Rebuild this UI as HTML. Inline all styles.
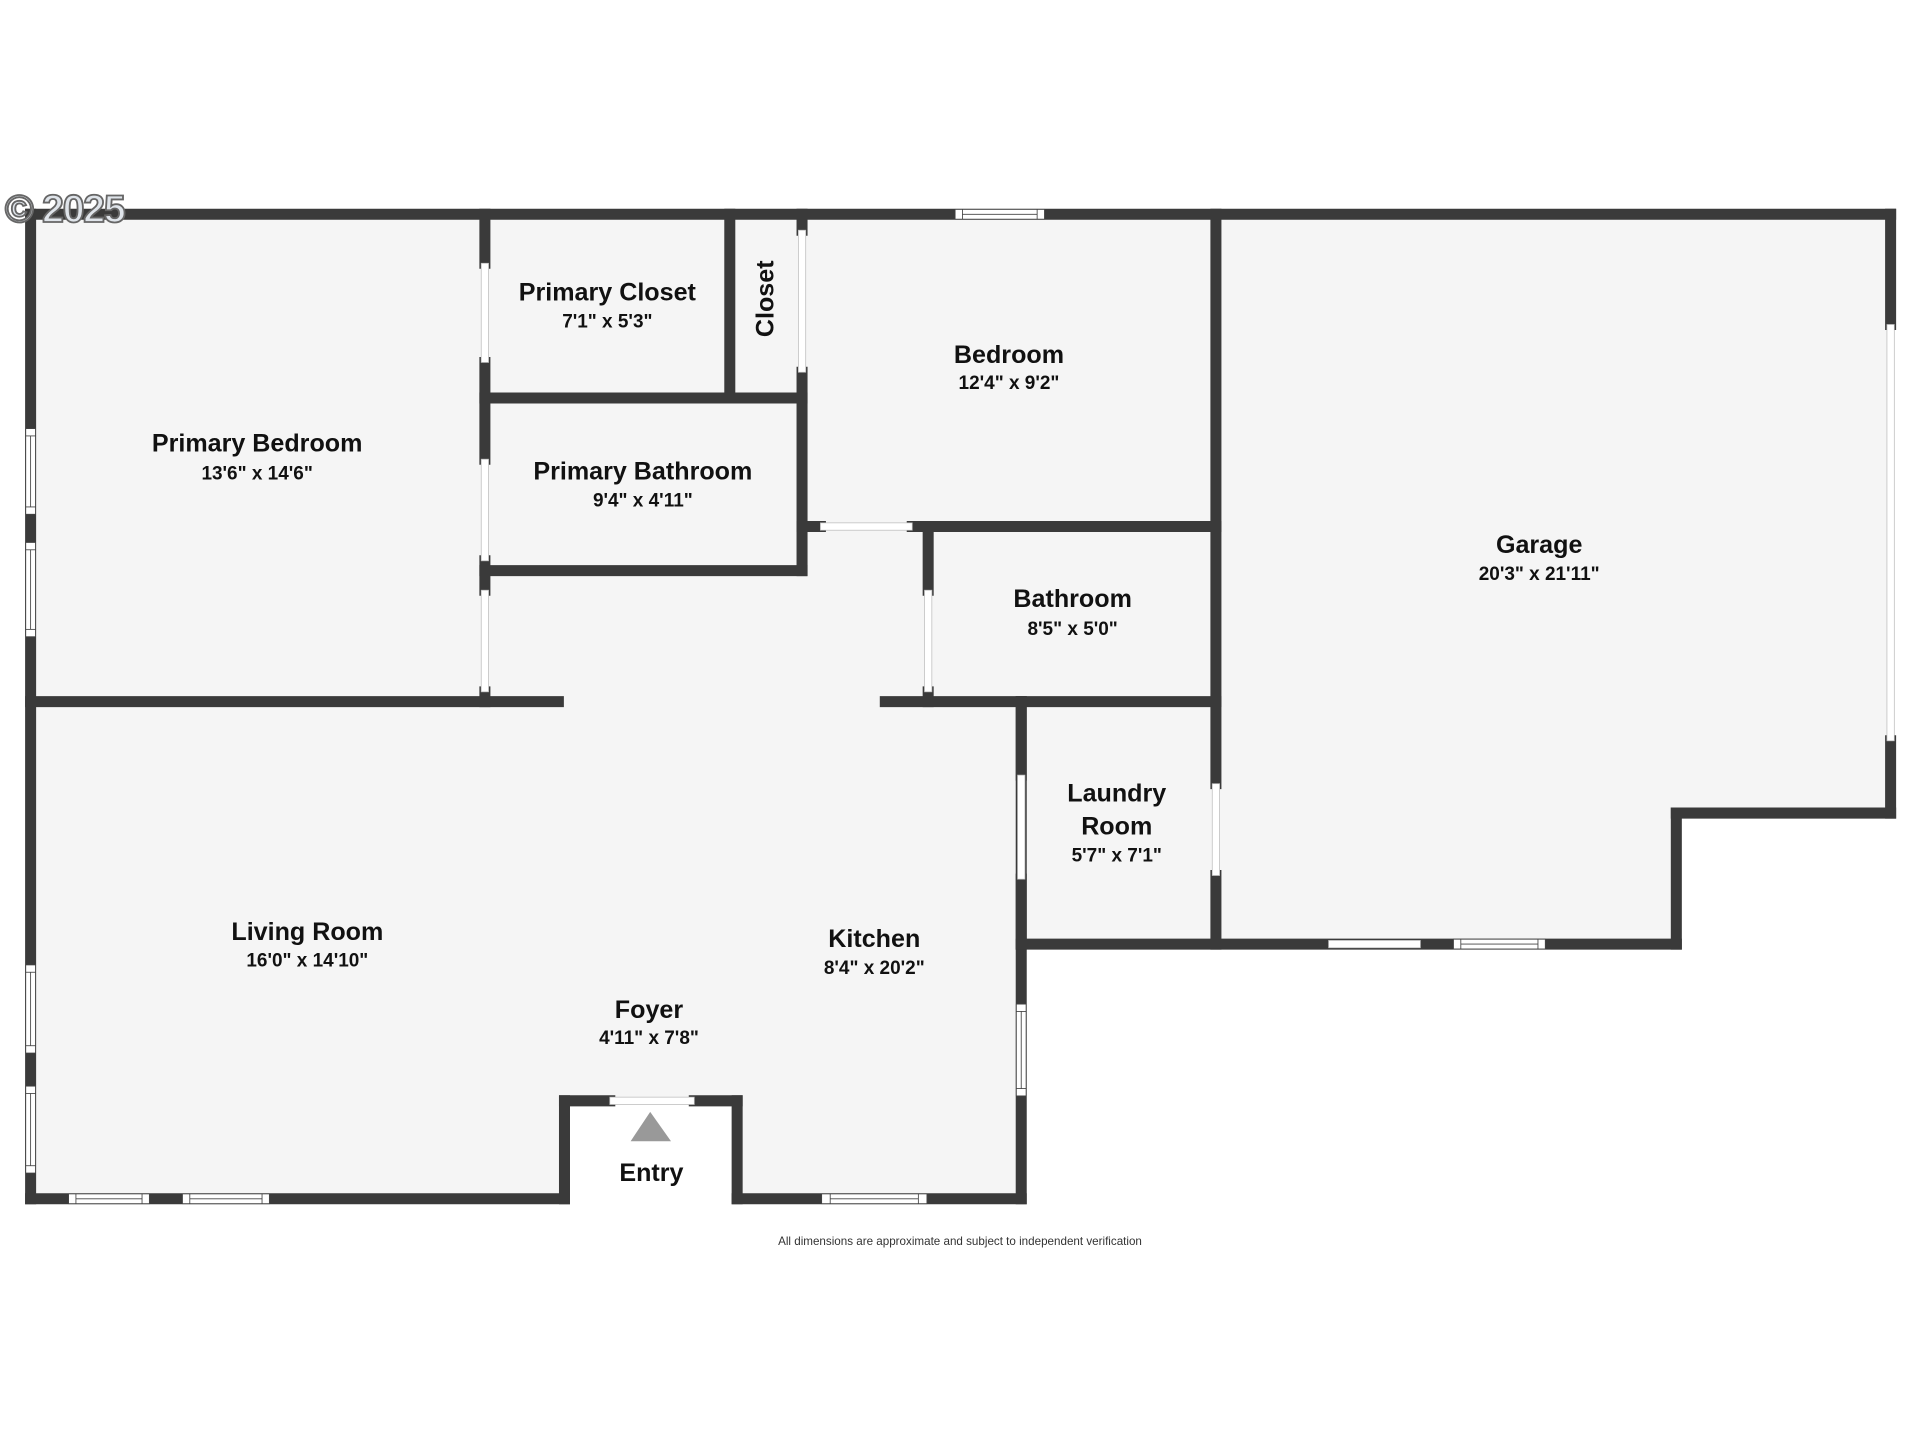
<!DOCTYPE html>
<html><head><meta charset="utf-8"><style>
html,body{margin:0;padding:0;background:#fff;}
svg{display:block}
text{font-family:"Liberation Sans",sans-serif;fill:#111;text-anchor:middle;dominant-baseline:central}
.t{font-weight:bold;font-size:20.5px}
.d{font-weight:bold;font-size:15.5px}
</style></head><body>
<svg width="1920" height="1440" viewBox="0 0 1568 1176" xmlns="http://www.w3.org/2000/svg">
<rect width="1568" height="1176" fill="#fff"/>
<polygon points="25,175 1544,175 1544,664 1369,664 1369,771 834,771 834,979 602,979 602,899 461,899 461,979 25,979" fill="#f5f5f5"/>
<rect x="461" y="899" width="141" height="80" fill="#fff"/>
<g stroke="#3a3a3a" stroke-width="9" stroke-linecap="square" fill="none">
<line x1="25" y1="175" x2="1544" y2="175"/>
<line x1="25" y1="175" x2="25" y2="979"/>
<line x1="25" y1="979" x2="461" y2="979"/>
<line x1="461" y1="899" x2="461" y2="979"/>
<line x1="461" y1="899" x2="498" y2="899"/>
<line x1="567" y1="899" x2="602" y2="899"/>
<line x1="602" y1="899" x2="602" y2="979"/>
<line x1="602" y1="979" x2="834" y2="979"/>
<line x1="834" y1="573" x2="834" y2="633"/>
<line x1="834" y1="718" x2="834" y2="979"/>
<line x1="834" y1="771" x2="1369" y2="771"/>
<line x1="1369" y1="664" x2="1369" y2="771"/>
<line x1="1369" y1="664" x2="1544" y2="664"/>
<line x1="1544" y1="175" x2="1544" y2="265"/>
<line x1="1544" y1="605" x2="1544" y2="664"/>
<line x1="396" y1="175" x2="396" y2="215"/>
<line x1="396" y1="296" x2="396" y2="375"/>
<line x1="396" y1="458" x2="396" y2="482"/>
<line x1="396" y1="565" x2="396" y2="573"/>
<line x1="25" y1="573" x2="456" y2="573"/>
<line x1="723" y1="573" x2="993" y2="573"/>
<line x1="596" y1="175" x2="596" y2="325"/>
<line x1="396" y1="325" x2="655" y2="325"/>
<line x1="655" y1="175" x2="655" y2="188"/>
<line x1="655" y1="304" x2="655" y2="466"/>
<line x1="396" y1="466" x2="655" y2="466"/>
<line x1="655" y1="430" x2="670" y2="430"/>
<line x1="745" y1="430" x2="993" y2="430"/>
<line x1="993" y1="175" x2="993" y2="640"/>
<line x1="993" y1="715" x2="993" y2="771"/>
<line x1="758" y1="430" x2="758" y2="482"/>
<line x1="758" y1="565" x2="758" y2="573"/>
<line x1="834" y1="573" x2="834" y2="771"/>
</g>
<g fill="#fff" stroke="#bbb" stroke-width="0.6">
<rect x="393" y="215" width="6" height="81"/>
<rect x="393" y="375" width="6" height="83"/>
<rect x="393" y="482" width="6" height="83"/>
<rect x="652" y="188" width="6" height="116"/>
<rect x="670" y="427" width="75" height="6"/>
<rect x="755" y="482" width="6" height="83"/>
<rect x="831" y="633" width="6" height="85"/>
<rect x="990" y="640" width="6" height="75"/>
<rect x="1541" y="265" width="6" height="340"/>
<rect x="1085" y="768" width="75" height="6"/>
<rect x="498" y="896" width="69" height="6"/>
</g>
<g fill="#fff" stroke="#444" stroke-width="0.7">
<rect x="780" y="171" width="73" height="8"/><line x1="786" y1="171" x2="786" y2="179"/><line x1="847" y1="171" x2="847" y2="179"/><line x1="786" y1="175" x2="847" y2="175"/>
<rect x="21" y="350" width="8" height="70"/><line x1="21" y1="356" x2="29" y2="356"/><line x1="21" y1="414" x2="29" y2="414"/><line x1="25" y1="356" x2="25" y2="414"/>
<rect x="21" y="443" width="8" height="77"/><line x1="21" y1="449" x2="29" y2="449"/><line x1="21" y1="514" x2="29" y2="514"/><line x1="25" y1="449" x2="25" y2="514"/>
<rect x="21" y="788" width="8" height="72"/><line x1="21" y1="794" x2="29" y2="794"/><line x1="21" y1="854" x2="29" y2="854"/><line x1="25" y1="794" x2="25" y2="854"/>
<rect x="21" y="887" width="8" height="71"/><line x1="21" y1="893" x2="29" y2="893"/><line x1="21" y1="952" x2="29" y2="952"/><line x1="25" y1="893" x2="25" y2="952"/>
<rect x="56" y="975" width="66" height="8"/><line x1="62" y1="975" x2="62" y2="983"/><line x1="116" y1="975" x2="116" y2="983"/><line x1="62" y1="979" x2="116" y2="979"/>
<rect x="149" y="975" width="71" height="8"/><line x1="155" y1="975" x2="155" y2="983"/><line x1="214" y1="975" x2="214" y2="983"/><line x1="155" y1="979" x2="214" y2="979"/>
<rect x="671" y="975" width="86" height="8"/><line x1="678" y1="975" x2="678" y2="983"/><line x1="750" y1="975" x2="750" y2="983"/><line x1="678" y1="979" x2="750" y2="979"/>
<rect x="830" y="820" width="8" height="75"/><line x1="830" y1="826" x2="838" y2="826"/><line x1="830" y1="889" x2="838" y2="889"/><line x1="834" y1="826" x2="834" y2="889"/>
<rect x="1187" y="767" width="75" height="8"/><line x1="1193" y1="767" x2="1193" y2="775"/><line x1="1256" y1="767" x2="1256" y2="775"/><line x1="1193" y1="771" x2="1256" y2="771"/>
</g>
<polygon points="531,908 515,932 548,932" fill="#999"/>
<text x="4" y="171" style="font-family:'Liberation Sans',sans-serif;font-weight:bold;font-size:32px;fill:#dfe4ea;stroke:#666;stroke-width:1.5;text-anchor:start;letter-spacing:-1px">© 2025</text>
<text class="t" x="210" y="362">Primary Bedroom</text><text class="d" x="210" y="387">13'6" x 14'6"</text>
<text class="t" x="496" y="239">Primary Closet</text><text class="d" x="496" y="263">7'1" x 5'3"</text>
<text class="t" x="625" y="244" transform="rotate(-90 625 244)">Closet</text>
<text class="t" x="824" y="290">Bedroom</text><text class="d" x="824" y="313">12'4" x 9'2"</text>
<text class="t" x="525" y="385">Primary Bathroom</text><text class="d" x="525" y="409">9'4" x 4'11"</text>
<text class="t" x="1257" y="445">Garage</text><text class="d" x="1257" y="469">20'3" x 21'11"</text>
<text class="t" x="876" y="489">Bathroom</text><text class="d" x="876" y="514">8'5" x 5'0"</text>
<text class="t" x="912" y="648">Laundry</text><text class="t" x="912" y="675">Room</text><text class="d" x="912" y="699">5'7" x 7'1"</text>
<text class="t" x="251" y="761">Living Room</text><text class="d" x="251" y="785">16'0" x 14'10"</text>
<text class="t" x="714" y="767">Kitchen</text><text class="d" x="714" y="791">8'4" x 20'2"</text>
<text class="t" x="530" y="825">Foyer</text><text class="d" x="530" y="848">4'11" x 7'8"</text>
<text class="t" x="532" y="958">Entry</text>
<text x="784" y="1014" style="font-size:9.5px;fill:#333">All dimensions are approximate and subject to independent verification</text>
</svg>
</body></html>
